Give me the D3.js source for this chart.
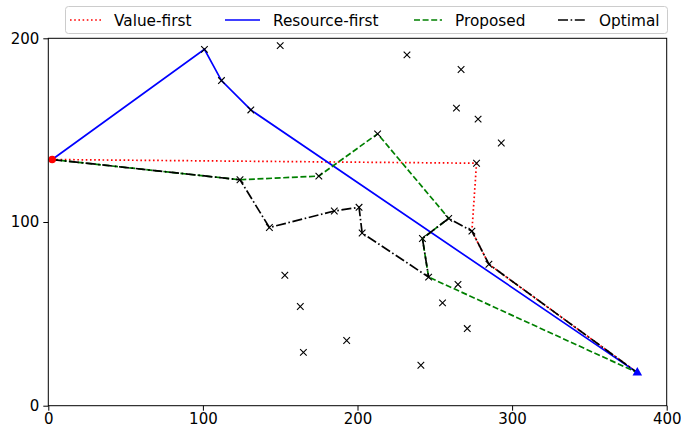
<!DOCTYPE html>
<html>
<head>
<meta charset="utf-8">
<script src="https://cdn.jsdelivr.net/npm/d3@7"></script>
<style>
  body { margin: 0; background: #fff; }
  svg { font-family: "DejaVu Sans", sans-serif; }
</style>
</head>
<body>
<svg id="chart" width="681" height="429"></svg>
<script>
// task locations (x markers)
const taskX = [101, 112, 131, 150, 232, 267, 264, 278, 293, 277, 213, 175, 124, 143, 185,
               201, 203, 259, 274, 285, 242, 246, 153, 163, 193, 165, 241, 265, 255, 271];
const taskY = [194, 177, 161, 196, 191, 183, 162, 156, 143, 132, 148, 125, 123, 97, 106,
               108, 94, 102, 95, 77, 91, 70, 71, 54, 35.5, 29, 22, 66, 56, 42];

const startPoint = [2.5, 134];
const endPoint = [381, 18];

// routes of each method
const valueFirst = [startPoint, [277, 132], [274, 95], [285, 77], endPoint];
const resourceFirst = [startPoint, [101, 194], [112, 177], [131, 161], endPoint];
const proposed = [startPoint, [124, 123], [175, 125], [213, 148], [259, 102], [242, 91], [246, 70], endPoint];
const optimal = [startPoint, [124, 123], [143, 97], [185, 106], [201, 108], [203, 94], [246, 70],
                 [242, 91], [259, 102], [274, 95], [285, 77], endPoint];

const xTicks = [0, 100, 200, 300, 400];
const yTicks = [0, 100, 200];

const series = [
    { name: "Value-first", data: valueFirst, color: "#ff0000", dash: "1.6,2.6" },
    { name: "Resource-first", data: resourceFirst, color: "#0000ff", dash: null },
    { name: "Proposed", data: proposed, color: "#008000", dash: "6,2.6" },
    { name: "Optimal", data: optimal, color: "#000000", dash: "10,2.6,1.6,2.6" }
];

const svg = d3.select("#chart");
const plotLeft = 48.3, plotRight = 666.7, plotTop = 38.3, plotBottom = 405.7;

const xScale = d3.scaleLinear().domain([0, 400]).range([plotLeft, plotRight]);
const yScale = d3.scaleLinear().domain([0, 200]).range([plotBottom, plotTop]);

// Achsen
svg.append("g")
    .attr("transform", `translate(0, ${plotBottom})`)
    .call(d3.axisBottom(xScale).tickValues(xTicks).tickSize(5).tickPadding(3))
    .call(g => g.select(".domain").remove())
    .call(g => g.selectAll("text").attr("font-size", 15).attr("fill", "#000").attr("font-family", "DejaVu Sans"));

svg.append("g")
    .attr("transform", `translate(${plotLeft}, 0)`)
    .call(d3.axisLeft(yScale).tickValues(yTicks).tickSize(5).tickPadding(4))
    .call(g => g.select(".domain").remove())
    .call(g => g.selectAll("text").attr("font-size", 15).attr("fill", "#000").attr("font-family", "DejaVu Sans"));

// Linien
const line = d3.line().x(d => xScale(d[0])).y(d => yScale(d[1]));

series.forEach(s => {
    svg.append("path")
        .datum(s.data)
        .attr("fill", "none")
        .attr("stroke", s.color)
        .attr("stroke-width", 1.7)
        .attr("stroke-dasharray", s.dash)
        .attr("d", line);
});

// task markers
const tasks = taskX.map((x, i) => [x, taskY[i]]);
const m = 3.3;
svg.append("g")
    .selectAll("path")
    .data(tasks)
    .join("path")
    .attr("fill", "none")
    .attr("stroke", "#000")
    .attr("stroke-width", 1.1)
    .attr("d", d => {
        const cx = xScale(d[0]), cy = yScale(d[1]);
        return `M${cx - m},${cy - m}L${cx + m},${cy + m}M${cx - m},${cy + m}L${cx + m},${cy - m}`;
    });

// Start und Ziel
svg.append("circle")
    .attr("cx", xScale(startPoint[0]))
    .attr("cy", yScale(startPoint[1]))
    .attr("r", 3.8)
    .attr("fill", "#ff0000");

svg.append("path")
    .attr("transform", `translate(${xScale(endPoint[0])}, ${yScale(endPoint[1])})`)
    .attr("d", d3.symbol(d3.symbolTriangle, 40))
    .attr("fill", "#0000ff");

// frame
svg.append("rect")
    .attr("x", plotLeft).attr("y", plotTop)
    .attr("width", plotRight - plotLeft).attr("height", plotBottom - plotTop)
    .attr("fill", "none").attr("stroke", "#000").attr("stroke-width", 1);

// Legende
const legend = svg.append("g");
legend.append("rect")
    .attr("x", 65.5).attr("y", 6.5)
    .attr("width", 602).attr("height", 27)
    .attr("rx", 3)
    .attr("fill", "#fff").attr("fill-opacity", 0.8)
    .attr("stroke", "#ccc");

const legendX = [70, 225, 414, 558];
const legendW = [31, 35, 28, 28];
series.forEach((s, i) => {
    legend.append("line")
        .attr("x1", legendX[i]).attr("x2", legendX[i] + legendW[i])
        .attr("y1", 20).attr("y2", 20)
        .attr("stroke", s.color)
        .attr("stroke-width", 1.7)
        .attr("stroke-dasharray", s.dash);
    legend.append("text")
        .attr("x", legendX[i] + legendW[i] + 13)
        .attr("y", 25.5)
        .attr("font-size", 15.3)
        .text(s.name);
});
</script>
</body>
</html>
